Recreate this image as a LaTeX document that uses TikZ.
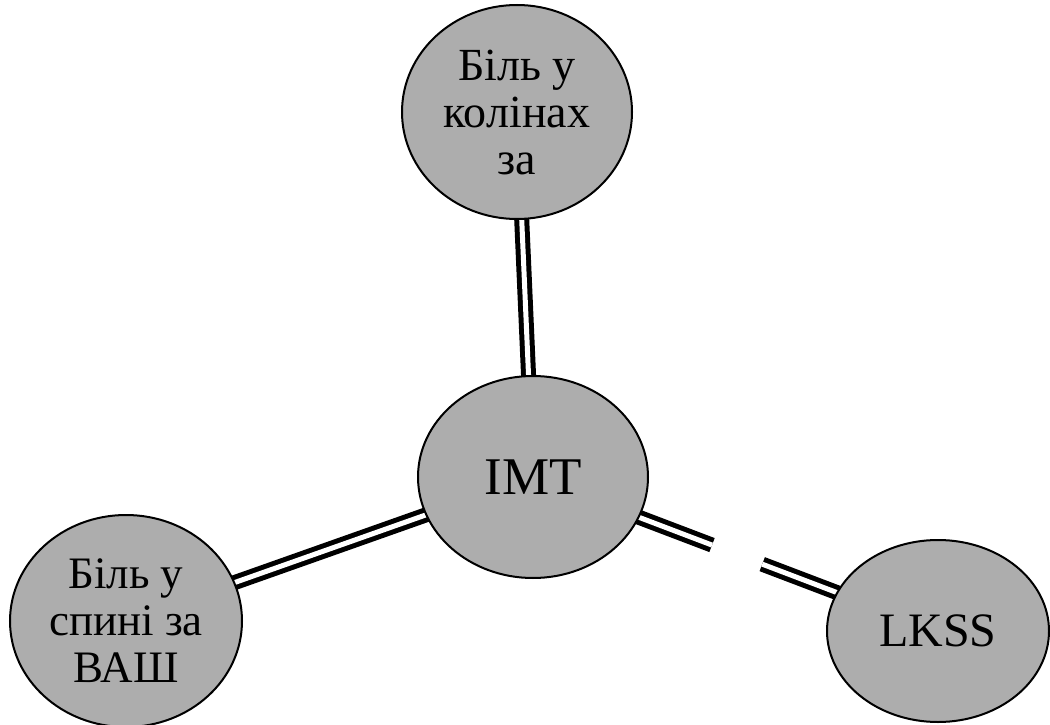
\documentclass[tikz,border=0pt]{standalone}
\usepackage{fontspec}
\setmainfont{Liberation Serif}
\usetikzlibrary{shapes.geometric,backgrounds,calc}
\definecolor{bubblegray}{RGB}{173,173,173}
\tikzset{
  bubble/.style={ellipse, draw=black, line width=2pt, fill=bubblegray,
    inner sep=0pt, align=center},
  link/.style={draw=black, double=white, line width=5pt, double distance=5pt,
    shorten <=-3pt, shorten >=-3pt}
}
\begin{document}
\begin{tikzpicture}[x=1pt,y=-1pt]
  \useasboundingbox (0,0) rectangle (1050,725);
  \node[bubble, font=\fontsize{46}{47}\selectfont, minimum width=230pt, minimum height=214pt] (knees) at (517,112) {Біль у\\колінах\\за};
  \node[bubble, font=\fontsize{53}{56}\selectfont, minimum width=230pt, minimum height=202pt] (imt) at (533,477) {IMT};
  \node[bubble, font=\fontsize{45}{47}\selectfont, minimum width=232pt, minimum height=212pt] (back) at (126,621) {Біль у\\спині за\\ВАШ};
  \node[bubble, font=\fontsize{48}{52}\selectfont, minimum width=222pt, minimum height=182pt] (lkss) at (938,631) {LKSS};
  \coordinate (gapA) at ($(imt.center)!0.442!(lkss.center)$);
  \coordinate (gapB) at ($(imt.center)!0.566!(lkss.center)$);
  \begin{pgfonlayer}{background}
    \draw[link] (imt) -- (knees);
    \draw[link] (imt) -- (back);
    \draw[link, shorten >=0pt] (imt) -- (gapA);
    \draw[link, shorten <=0pt] (gapB) -- (lkss);
  \end{pgfonlayer}
\end{tikzpicture}
\end{document}
